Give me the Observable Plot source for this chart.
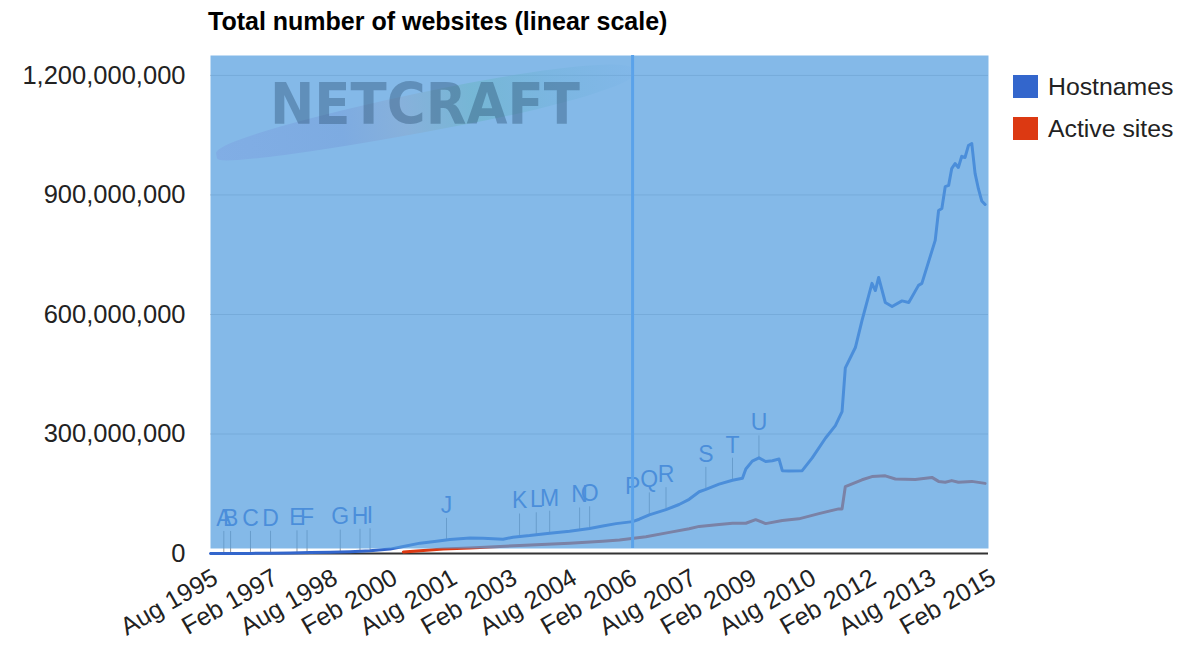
<!DOCTYPE html>
<html>
<head>
<meta charset="utf-8">
<script src="https://cdn.jsdelivr.net/npm/d3@7"></script>
<script src="https://cdn.jsdelivr.net/npm/@observablehq/plot@0.6"></script>
<style>
  body { margin: 0; background: #fff; font-family: "Liberation Sans", Arial, sans-serif; }
  #wrap { position: relative; width: 1200px; height: 645px; overflow: hidden; }
  #title { position: relative; height: 45px; }
  #title span { position: absolute; left: 208px; top: 9px; font-weight: bold; font-size: 25px; line-height: 25px; color: #000; white-space: nowrap; }
  .leg { position: absolute; left: 1013px; display: flex; align-items: center; height: 23px; font-size: 24.8px; color: #222; white-space: nowrap; }
  .leg .sw { display: inline-block; width: 25px; height: 23px; margin-right: 10px; }
  #brush { position: absolute; left: 212px; top: 92px; width: 425px; height: 40px; border-radius: 70% 45% 45% 70% / 60% 50% 50% 40%;
           transform: rotate(-11deg); opacity: 0.5;
           background: linear-gradient(90deg, rgba(120,140,220,0.5), rgba(115,150,215,0.8) 30%, rgba(140,165,200,0.8) 45%, rgba(100,180,190,0.9) 62%, rgba(110,178,215,0.8) 80%, rgba(110,170,235,0.2)); }
  #logo { position: absolute; left: 270px; top: 76px; font-family: "DejaVu Sans", sans-serif; font-weight: bold; font-size: 57px; line-height: 57px;
          color: rgba(40,75,110,0.38); white-space: nowrap; transform: scaleX(0.93); transform-origin: 0 0; }
</style>
</head>
<body>
<div id="wrap">
  <div id="title"><span>Total number of websites (linear scale)</span></div>
  <div id="chart"></div>
  <div id="brush"></div>
  <div id="logo">NETCRAFT</div>
</div>
<script>
// ---- Data (values in millions) ----
const hostDates = ["1995-08","1996-02","1996-08","1997-02","1997-08","1998-02","1998-08","1999-02","1999-08","2000-02",
  "2000-06","2000-11","2001-04","2001-08","2002-02","2002-06","2002-12","2003-03","2003-08","2004-02",
  "2004-08","2005-02","2005-06","2005-10","2006-03","2006-05","2006-08","2007-01","2007-05","2007-08",
  "2007-11","2008-01","2008-05","2008-09","2008-12","2009-01","2009-03","2009-05","2009-07","2009-09",
  "2009-11","2009-12","2010-02","2010-06","2010-09","2011-01","2011-04","2011-06","2011-07","2011-10",
  "2011-12","2012-03","2012-04","2012-05","2012-07","2012-09","2012-12","2013-02","2013-05","2013-06",
  "2013-10","2013-11","2013-12","2014-01","2014-02","2014-03","2014-04","2014-05","2014-06","2014-07",
  "2014-08","2014-09","2014-10","2014-11","2014-12","2015-01"];
const hostMillions = [0.02,0.1,0.3,0.7,1.5,2.2,3,4.5,7,11,
  17.6,26,31,35,39,38,36,41,45,51,
  56,63,69,75,80,86,97,110,123,136,
  155,161,174,184,189,212,232,240,231,233,
  237,208,207,208,240,290,321,356,466,517,
  585,678,660,693,630,620,634,630,673,678,
  786,861,866,921,924,966,979,969,997,994,
  1024,1029,954,915,885,876];

const activeDates = ["2000-06","2001-06","2002-02","2003-05","2004-08","2005-06","2005-11","2006-07","2007-02","2007-08",
  "2007-11","2008-05","2008-09","2009-01","2009-04","2009-07","2009-12","2010-05","2010-11","2011-05",
  "2011-06","2011-07","2011-12","2012-03","2012-07","2012-10","2013-04","2013-09","2013-11","2014-01",
  "2014-03","2014-05","2014-09","2015-01"];
const activeMillions = [4,11,14,20,26,31,34,42,53,62,
  68,73,76,76,85,75,83,87,100,112,
  112,168,185,193,195,187,186,191,181,179,
  183,179,181,176];

const annotLetters = ["A","B","C","D","E","F","G","H","I","J","K","L","M","N","O","P","Q","R","S","T","U"];
const annotDates = ["1995-12","1996-02","1996-08","1997-02","1997-10","1998-01","1998-11","1999-05","1999-08","2001-07",
  "2003-05","2003-10","2004-02","2004-11","2005-02","2006-03","2006-08","2007-01","2008-01","2008-09","2009-05"];
const annotMillions = [0.1,0.1,0.3,0.7,1.7,2.2,3.5,5.5,7,33,44,47,51,59,62,80,97,110,161,184,240];

const focusDate = "2006-03";
const yTicks = [0, 300000000, 600000000, 900000000, 1200000000];
const xTickLabels = ["Aug 1995","Feb 1997","Aug 1998","Feb 2000","Aug 2001","Feb 2003","Aug 2004","Feb 2006",
  "Aug 2007","Feb 2009","Aug 2010","Feb 2012","Aug 2013","Feb 2015"];
const seriesNames = ["Hostnames","Active sites"];
const seriesColors = ["#3366CC","#DC3912"];

// ---- Build ----
const parse = d3.utcParse("%Y-%m");
const parseLabel = d3.utcParse("%b %Y");
const host = hostDates.map((d, i) => ({date: parse(d), value: hostMillions[i] * 1e6}));
const active = activeDates.map((d, i) => ({date: parse(d), value: activeMillions[i] * 1e6}));
const annots = annotLetters.map((l, i) => ({letter: l, date: parse(annotDates[i]), value: annotMillions[i] * 1e6}));
const xTicks = xTickLabels.map(parseLabel);

const chart = Plot.plot({
  width: 1200, height: 600,
  marginTop: 10, marginBottom: 92, marginLeft: 210, marginRight: 212,
  style: {fontFamily: "'Liberation Sans', Arial, sans-serif", fontSize: "25px", color: "#222", background: "transparent", overflow: "visible"},
  x: {type: "utc", domain: [xTicks[0], xTicks[xTicks.length - 1]]},
  y: {domain: [0, 1250000000]},
  marks: [
    Plot.ruleY(yTicks.slice(1), {stroke: "#cccccc", strokeWidth: 1}),
    Plot.ruleY([0], {stroke: "#333", strokeWidth: 2}),
    Plot.ruleX(annots, {x: "date", y1: "value", y2: "value", insetBottom: 22, stroke: "#999", strokeWidth: 1}),
    Plot.text(annots, {x: "date", y: "value", text: "letter", dy: -35, fill: seriesColors[0], fontSize: 23}),
    Plot.line(active, {x: "date", y: "value", stroke: seriesColors[1], strokeWidth: 3}),
    Plot.line(host, {x: "date", y: "value", stroke: seriesColors[0], strokeWidth: 3}),
    Plot.frame({fill: "rgb(85,158,223)", fillOpacity: 0.72, stroke: "none", insetBottom: 5}),
    Plot.ruleX([parse(focusDate)], {stroke: "#5aa2ea", strokeWidth: 3, insetBottom: 5}),
    Plot.axisY({ticks: yTicks, tickFormat: d3.format(","), tickSize: 0, tickPadding: 25, fontSize: 25.5, label: null}),
    Plot.axisX({ticks: xTicks, tickFormat: d3.utcFormat("%b %Y"), tickRotate: -30, tickSize: 0, tickPadding: 22, dx: 5, fontSize: 25, label: null})
  ]
});
document.getElementById("chart").appendChild(chart);

// legend
const wrap = document.getElementById("wrap");
seriesNames.forEach((name, i) => {
  const div = document.createElement("div");
  div.className = "leg";
  div.style.top = (75 + i * 42) + "px";
  const sw = document.createElement("span");
  sw.className = "sw";
  sw.style.background = seriesColors[i];
  div.appendChild(sw);
  div.appendChild(document.createTextNode(name));
  wrap.appendChild(div);
});
</script>
</body>
</html>
